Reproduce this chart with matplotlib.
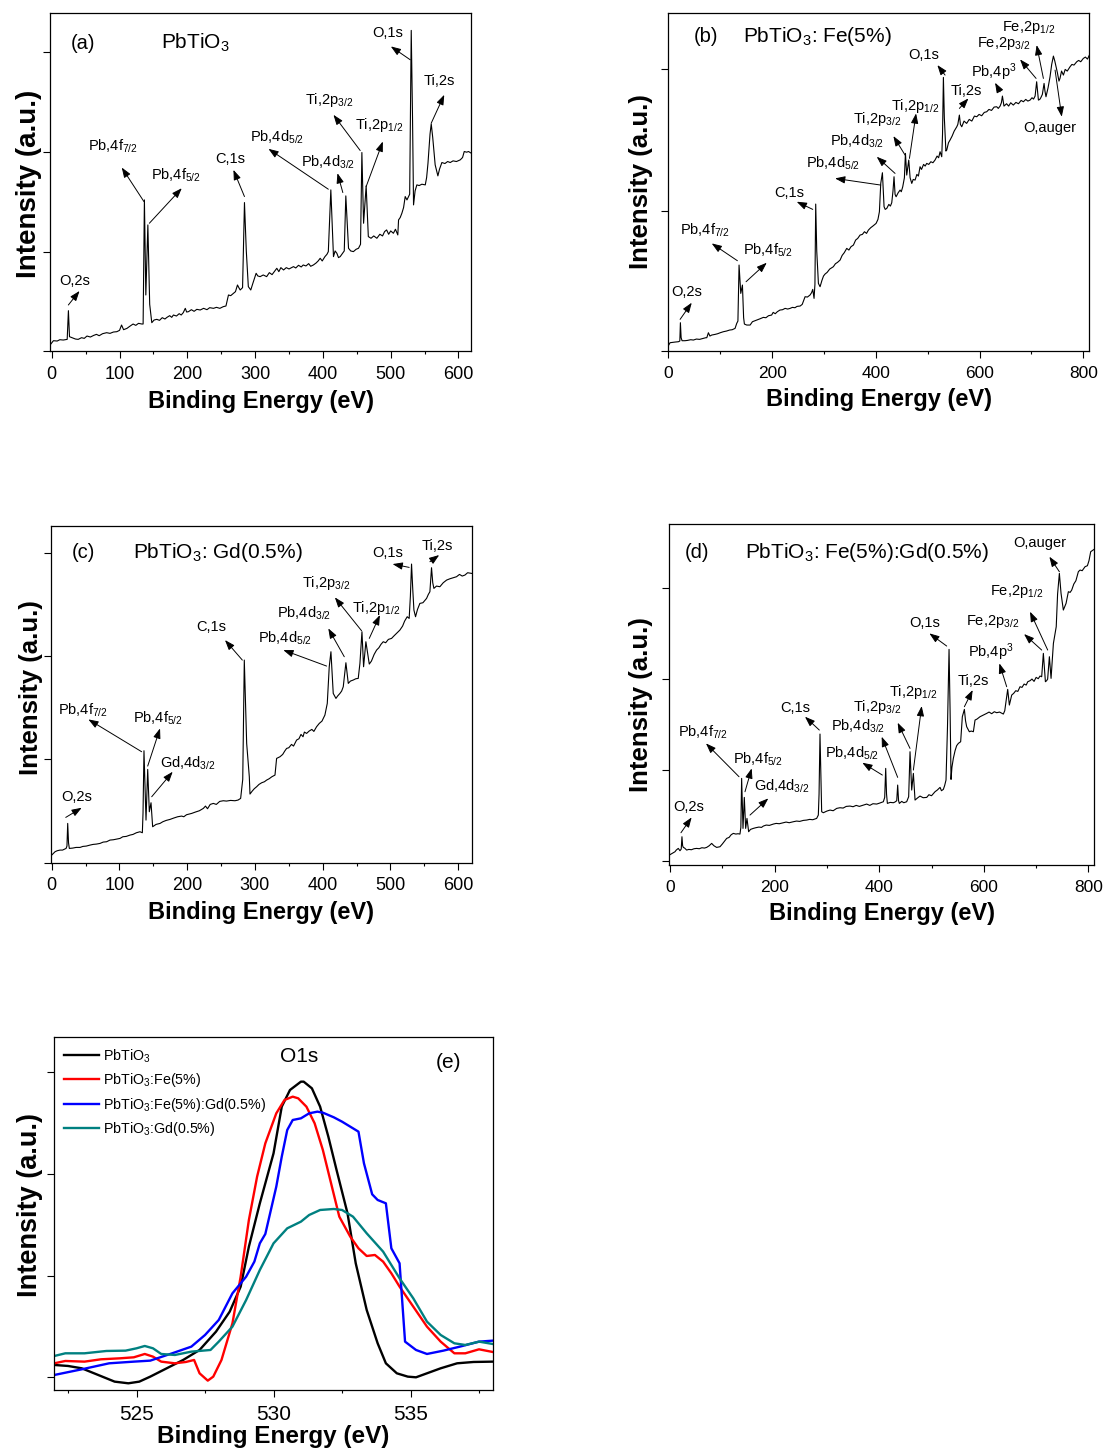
import matplotlib
matplotlib.use('Agg')
import matplotlib.pyplot as plt
from matplotlib.ticker import MultipleLocator

plt.rcParams['font.family'] = ['Liberation Sans', 'DejaVu Sans']
plt.rcParams['mathtext.fontset'] = 'custom'
plt.rcParams['mathtext.rm'] = 'Liberation Sans'
plt.rcParams['mathtext.it'] = 'Liberation Sans:italic'
plt.rcParams['mathtext.bf'] = 'Liberation Sans:bold'

# ---- survey spectra (binding energy in eV, intensity in a.u.) ----
a_ev = [-2.5, 2.5, 8, 12, 17, 22.8, 24.6, 26.2, 30, 35, 39, 44, 48, 52, 57, 62, 66, 70, 75, 81, 86,
        91, 96, 100, 103, 106, 111, 115, 120, 124, 128, 133, 134.8, 136.7, 138.8, 141.8, 144.5,
        147.6, 151, 155, 159, 163, 167, 170, 174, 177, 179.5, 184, 188, 191, 194, 197, 199, 201.7,
        206, 210, 214, 219, 224, 229, 233, 238.6, 243, 248, 253, 257, 260.7, 264, 268, 271, 274,
        276, 278, 281.5, 284.3, 287, 290, 293.6, 297, 301.5, 304, 307.4, 312, 317, 321, 325, 329,
        332, 335, 338, 342, 346, 350, 356.6, 360, 364, 368, 371, 375, 379, 382, 386, 390, 393, 396,
        399, 403, 406, 408, 411.7, 415.6, 418, 420.6, 423, 425.5, 428, 431.5, 433.8, 437.8, 441,
        445, 449, 452.5, 455.5, 457.5, 460, 463.8, 467, 471, 475, 479.6, 484, 488, 491, 494, 497,
        500, 504, 507, 510.5, 511.6, 514, 516.5, 519, 521.4, 524, 528, 530.3, 532.2, 533.7, 536,
        538.6, 542, 546, 551, 553, 555, 558, 559.8, 562, 565.6, 569.6, 572, 575.5, 580, 584, 587.8,
        592, 597, 602.6, 606, 608.5, 612, 614.8, 618.8]
a_int = [18, 31, 30, 34, 33, 35, 121, 43, 40, 36, 35, 40, 38, 45, 42, 47, 50, 46, 52, 55, 53,
         57, 58, 62, 78, 64, 68, 74, 81, 77, 83, 81, 81, 453, 168, 378, 140,
         85, 93, 95, 92, 100, 96, 101, 106, 101, 108, 105, 112, 108, 115, 128, 117, 118,
         124, 119, 125, 123, 128, 124, 130, 128, 131, 128, 133, 135, 168, 166, 173, 178, 198,
         190, 183, 190, 445, 300, 193, 183, 205, 233, 225, 223, 228, 223, 235, 229, 240,
         248, 238, 250, 243, 250, 246, 253, 249, 257, 252, 258, 255, 262, 254, 258, 264, 270, 278,
         270, 283, 290, 298, 483, 283, 300, 293, 280, 283, 290, 300, 465, 308, 300,
         298, 305, 308, 320, 595, 383, 495, 343, 338, 345, 338, 350, 345, 358, 363, 350,
         360, 353, 365, 348, 393, 400, 413, 430, 463, 453, 470, 961, 700, 438, 480,
         498, 496, 500, 498, 520, 563, 650, 681, 640, 558, 525, 545, 565, 562, 568, 565,
         570, 568, 573, 580, 598, 596, 598, 593]

b_ev = [-1.3, 3.2, 8, 13, 19.3, 22, 23.1, 24.5, 26.3, 32, 37, 43, 48.2, 54, 60, 67.5, 72, 74, 77.1,
        80, 83.5, 90, 95, 100, 106, 112, 118, 123, 128.5, 131.7, 134, 136.2, 139.5, 142.7, 145,
        146.5, 151, 157.5, 162, 167, 172, 177, 183, 188, 193, 199, 202, 206, 210, 215, 220, 225,
        230, 234.6, 239, 244, 248, 253.9, 258, 263.5, 268, 273, 276, 278.3, 280.8, 282.5, 284,
        286, 289.2, 292.4, 296, 299, 302, 306, 311, 315, 318, 322, 326, 331, 335, 339, 343.8,
        348, 352, 356.7, 361, 365, 369.5, 374, 378, 382, 385.6, 390, 395, 400.4, 404, 406.8,
        409.4, 412.6, 415.8, 418, 421, 425, 428, 430.6, 433, 435, 437, 439, 443, 446.7, 449,
        451.8, 455, 457, 459.5, 463.4, 466, 469.2, 472, 475.6, 479, 482, 485.2, 488, 492, 495,
        498, 502, 506, 510, 514, 518, 521, 523.8, 527, 528.5, 530.2, 532, 535, 536.6, 540, 543,
        547, 551, 556, 558, 561, 563, 565.6, 570, 575, 580, 585, 590, 594.5, 599, 604, 609,
        613.7, 618, 623, 628, 633, 636, 639.5, 642, 644, 647, 652, 656, 660, 665, 670, 675, 680,
        684.4, 689, 693, 697.3, 701, 704, 707, 710, 713.4, 716, 718, 721, 724.3, 726, 728, 732,
        735.8, 739, 742.3, 745, 747.4, 750, 753, 755, 758, 761.6, 765, 769, 774.4, 778, 782,
        787.3, 791, 795, 800, 804, 808, 811.7]
b_int = [13, 25, 26, 27, 28, 30, 85, 40, 31, 31, 32, 34, 33, 36, 35, 38, 40, 40, 55,
         45, 48, 50, 52, 55, 58, 60, 63, 64, 68, 83, 90, 258, 173, 198, 100,
         81, 78, 78, 88, 91, 94, 97, 101, 100, 106, 108, 116, 112, 118, 123, 124, 128,
         126, 128, 131, 130, 134, 135, 140, 163, 162, 168, 175, 185, 158, 200, 441,
         300, 203, 193, 212, 225, 231, 236, 246, 250, 253, 262, 266, 273, 287, 295, 308,
         303, 313, 318, 333, 338, 348, 350, 358, 353, 363, 370, 376, 383, 395, 418,
         503, 535, 433, 425, 428, 440, 435, 445, 480, 523, 470, 463, 475, 483, 478,
         493, 520, 593, 528, 573, 520, 503, 515, 513, 530, 525, 553, 545, 560, 555,
         563, 560, 568, 565, 573, 585, 580, 598, 583, 650, 821, 700, 600, 603, 625, 633,
         645, 660, 673, 680, 708, 680, 673, 690, 683, 695, 690, 705, 703, 710, 706, 716,
         718, 725, 722, 732, 733, 728, 735, 745, 765, 735, 742, 735, 745, 738, 746, 742, 752,
         748, 755, 750, 753, 760, 756, 765, 808, 753, 755, 760, 770, 803, 780, 763, 790,
         823, 860, 885, 870, 853, 835, 810, 818, 840, 828, 845, 840, 853, 860, 858,
         868, 872, 868, 878, 882, 876, 888]

c_ev = [-1.5, 4.9, 8, 12.3, 16, 21.2, 22.5, 23.6, 24.8, 26, 31, 36, 41.8, 46, 51, 56.6, 61, 66, 71.3,
        76, 81, 86, 91, 96, 100.8, 105, 110, 115.6, 120, 125, 130.3, 133.8, 134.8, 136.2, 139.2,
        141.7, 144.1, 146.6, 149, 154, 159.9, 164, 169, 174.6, 180, 186, 191.8, 195, 199, 206.6,
        212, 218, 223.8, 227, 230, 234, 238.6, 243, 248, 253.3, 258, 264, 270.5, 275, 278.9, 282,
        284.3, 286.5, 287.8, 291.7, 292.7, 296, 299, 302.5, 306, 310, 314, 317.3, 321, 325, 329.6,
        332, 337, 341, 344, 346.8, 350, 354, 357, 361.5, 365, 368, 371, 373, 376.3, 380, 384, 387,
        391, 395, 399, 403.3, 406.8, 409.7, 412.2, 415.6, 419.6, 422, 425.5, 428, 430.4, 434.3,
        437.8, 441, 445, 449, 452.5, 455, 458, 460.4, 463.8, 468.8, 472, 476, 479.6, 483, 486,
        489.4, 493, 497, 501.7, 505, 509, 514, 518, 521, 524.8, 527.7, 529.5, 531.2, 533, 534.7,
        537.1, 540, 543.5, 548, 553.4, 556, 558.3, 560.7, 562.5, 564.2, 568, 573, 578, 583, 588,
        593, 597.6, 602, 606, 610, 614, 620]
c_int = [20, 33, 36, 38, 38, 43, 50, 118, 60, 43, 44, 46, 46, 49, 50, 53, 55, 56, 58,
         62, 63, 68, 69, 71, 73, 78, 79, 83, 85, 90, 93, 90, 150, 336, 128,
         280, 153, 180, 108, 115, 118, 123, 127, 130, 134, 138, 140, 138, 144, 148,
         152, 156, 163, 170, 162, 175, 178, 175, 184, 186, 185, 187, 186, 188, 193, 250,
         608, 450, 358, 258, 206, 215, 222, 228, 235, 240, 243, 248, 252, 258, 263,
         313, 318, 325, 335, 343, 345, 355, 350, 368, 372, 385, 378, 392, 388, 395, 400, 394,
         408, 418, 425, 443, 478, 588, 633, 508, 493, 500, 508, 515, 528, 600,
         538, 545, 548, 552, 553, 598, 693, 588, 663, 596, 605, 625, 638, 645, 655,
         663, 660, 670, 673, 680, 688, 698, 710, 725, 738, 733, 800, 896, 820, 758,
         738, 760, 778, 780, 793, 805, 813, 885, 840, 823, 830, 828, 840, 848, 852,
         855, 858, 865, 860, 863, 870, 868]

d_ev = [-1.3, 4, 9.6, 12, 15.9, 19.1, 21.5, 22.9, 24.2, 25.5, 28, 31.9, 36, 41, 46, 51, 56, 61, 66,
        70.1, 75, 79.7, 84, 89.2, 95.6, 100, 104, 108.4, 113, 117, 121.1, 126, 130, 133.8, 135.5,
        137, 139.6, 142.1, 144.7, 147.2, 150.4, 154, 159.3, 164, 170, 175, 178.5, 184, 190, 197.6,
        203, 209, 216.7, 222, 228, 235.8, 242, 248, 255, 261.3, 267, 273, 280.4, 283.6, 285,
        286.8, 288.5, 290, 293.2, 300, 306, 312, 318.7, 325, 331, 337, 344.2, 350, 356, 362,
        369.7, 376, 382, 388, 395.2, 401, 407.9, 410.5, 412.4, 414, 415.6, 421, 427, 430, 433.5,
        435.3, 437, 438.5, 443, 447, 452.5, 456.3, 458.9, 462.1, 465.3, 468.5, 473, 478, 484,
        490.8, 495, 500, 506.7, 511, 516.3, 519, 522.6, 525, 527.7, 530.5, 533.5, 535.5, 537.3,
        539, 541.7, 545, 548, 551.3, 555.7, 558.9, 562.8, 565, 567.2, 572.3, 576, 580, 583.2,
        587, 592.7, 598, 605.5, 610, 615, 620, 624.6, 630, 637.3, 640, 642.4, 645.6, 648.8,
        653.3, 657, 661, 665, 669.2, 673, 677, 681, 684, 688.3, 692, 696, 700, 704, 707.4, 710.6,
        713.8, 717.7, 720, 722, 725.3, 728.5, 733, 738.4, 741, 744.4, 747.6, 752, 757.2, 761.6,
        765, 768, 772, 776, 780.7, 784, 788, 793.5, 798, 801, 804.3, 807, 810.7]
d_int = [17, 22, 27, 32, 37, 30, 35, 72, 45, 40, 38, 32, 34, 33, 36, 37, 36, 39, 38,
         40, 45, 52, 45, 40, 42, 50, 58, 67, 70, 78, 82, 80, 81, 80, 100,
         247, 97, 190, 97, 127, 87, 94, 97, 99, 101, 100, 104, 107, 106, 110,
         112, 111, 114, 116, 114, 117, 119, 118, 121, 122, 124, 123, 127, 137, 200,
         380, 250, 147, 144, 149, 152, 150, 157, 159, 158, 163, 164, 162, 166, 163,
         167, 170, 166, 171, 170, 173, 177, 190, 277, 200, 172, 175, 174, 176, 180,
         227, 180, 172, 178, 174, 177, 192, 327, 212, 262, 182, 188, 194, 189,
         190, 198, 195, 207, 212, 220, 210, 214, 225, 242, 400, 634, 450, 244,
         280, 307, 330, 345, 352, 357, 432, 454, 420, 402, 387, 389, 387, 422,
         425, 432, 436, 442, 446, 441, 447, 444, 446, 440, 450, 477, 514, 467,
         497, 502, 510, 508, 522, 520, 530, 527, 537, 540, 545, 538, 550, 546, 554, 552,
         622, 537, 540, 545, 612, 547, 652, 702, 800, 862, 802, 752, 772, 807,
         805, 812, 830, 840, 867, 872, 870, 882, 885, 900, 927, 930, 934]

# ---- O1s high resolution spectra ----
e_pto_ev = [522, 522.5, 523, 523.6, 524.2, 524.7, 525.1, 525.5, 526.1, 526.7, 527.3, 527.9, 528.4,
            528.8, 529.1, 529.5, 530, 530.3, 530.6, 531, 531.1, 531.4, 531.7, 532, 532.3, 532.7,
            533, 533.4, 533.8, 534.1, 534.5, 534.9, 535.2, 535.6, 536.1, 536.7, 537.3, 538]
e_pto_int = [37, 34, 27, 7, -13, -18, -13, 2, 27, 52, 82, 137, 197,
             272, 392, 522, 672, 812, 862, 887, 887, 867, 812, 722, 622, 492,
             342, 202, 102, 42, 12, 2, 0, 12, 27, 42, 46, 47]

e_fe_ev = [522, 522.4, 523.1, 523.7, 524.4, 524.9, 525.3, 525.6, 525.9, 526.4, 526.8, 527.1, 527.3,
           527.6, 527.8, 528.1, 528.5, 528.8, 529.1, 529.4, 529.7, 530.1, 530.4, 530.7, 530.9,
           531.2, 531.5, 531.8, 532.1, 532.4, 532.8, 533.1, 533.4, 533.7, 534, 534.3, 534.6,
           535.1, 535.6, 536.1, 536.6, 537, 537.5, 538]
e_fe_int = [42, 49, 47, 54, 57, 60, 70, 62, 47, 42, 46, 52, 12,
            -10, 2, 52, 162, 302, 472, 602, 702, 792, 832, 842, 837,
            812, 762, 682, 582, 482, 422, 387, 364, 367, 347, 312, 272,
            212, 152, 107, 72, 72, 84, 76]

e_fegd_ev = [522, 523, 524, 524.9, 525.5, 526.3, 527, 527.5, 528, 528.5, 529, 529.3, 529.5, 529.7,
             530.1, 530.3, 530.5, 530.7, 531, 531.3, 531.6, 531.8, 532.2, 532.5, 532.8, 533.1,
             533.3, 533.6, 533.8, 534.1, 534.3, 534.6, 534.8, 535.2, 535.6, 536.2, 536.8, 537.5, 538]
e_fegd_int = [7, 24, 42, 47, 50, 72, 92, 127, 172, 252, 302, 347, 402, 430,
              572, 662, 742, 772, 777, 792, 797, 794, 780, 767, 752, 737,
              642, 549, 532, 522, 387, 342, 107, 82, 70, 80, 92, 107, 110]

e_gd_ev = [522, 522.4, 523.1, 523.9, 524.6, 525, 525.3, 525.6, 525.9, 526.4, 527, 527.7, 528, 528.5,
           529, 529.5, 530, 530.5, 531, 531.3, 531.7, 532.2, 532.5, 532.9, 533.4, 534, 534.6,
           535.1, 535.6, 536.1, 536.6, 537, 537.5, 538]
e_gd_int = [64, 72, 72, 79, 80, 87, 94, 87, 70, 67, 77, 82, 107, 152,
            232, 322, 402, 447, 467, 487, 502, 505, 502, 482, 432, 377, 297,
            237, 167, 127, 102, 97, 107, 100]

e_labels = [r'PbTiO$_3$', r'PbTiO$_3$:Fe(5%)', r'PbTiO$_3$:Fe(5%):Gd(0.5%)', r'PbTiO$_3$:Gd(0.5%)']
e_colors = ['#000000', '#ff0000', '#0000ff', '#008080']

# ---- peak labels: text, text position, arrow start (at peak), arrow tip ----
a_notes = [('O,2s', (34.4, 211), (24.5, 138), (41, 180)),
           (r'Pb,4f$_{7/2}$', (91, 613), (136, 448), (103.3, 550)),
           (r'Pb,4f$_{5/2}$', (183.5, 528), (144, 383), (191.8, 488)),
           ('C,1s', (263, 575), (284.3, 463), (268, 543)),
           (r'Pb,4d$_{5/2}$', (332, 641), (408, 485), (319.7, 606)),
           (r'Pb,4d$_{3/2}$', (408, 566), (429.4, 475), (421.5, 533)),
           (r'Ti,2p$_{3/2}$', (409.7, 753), (455, 601), (415.6, 708)),
           (r'Ti,2p$_{1/2}$', (483.5, 678), (463.8, 493), (488.4, 628)),
           ('O,1s', (495.8, 953), (528.8, 873), (500.2, 913)),
           ('Ti,2s', (572, 808), (559.8, 683), (579, 768))]

b_notes = [('O,2s', (35.3, 178), (22.5, 95), (45, 145)),
           (r'Pb,4f$_{7/2}$', (70.7, 363), (133, 271), (83.5, 323)),
           (r'Pb,4f$_{5/2}$', (192.8, 303), (149.7, 208), (189.6, 265)),
           ('C,1s', (233.3, 475), (278.3, 425), (247.4, 448)),
           (r'Pb,4d$_{5/2}$', (318, 563), (409.4, 498), (321.3, 518)),
           (r'Pb,4d$_{3/2}$', (364.4, 628), (437, 533), (401.7, 583)),
           (r'Ti,2p$_{3/2}$', (401.7, 695), (456.3, 588), (433.8, 645)),
           (r'Ti,2p$_{1/2}$', (475.6, 735), (464.7, 578), (477.5, 713)),
           ('O,1s', (493, 888), (533.4, 828), (518.6, 858)),
           ('Ti,2s', (575, 781), (561, 728), (578.4, 758)),
           (r'Pb,4p$^3$', (626.6, 838), (639.5, 778), (629.8, 805)),
           (r'Fe,2p$_{3/2}$', (645.9, 923), (708.9, 818), (678, 875)),
           (r'Fe,2p$_{1/2}$', (694, 971), (723, 818), (710, 918)),
           ('O,auger', (735.9, 668), (745.5, 843), (758.4, 703))]

c_notes = [('O,2s', (36.9, 198), (20.7, 136), (44.3, 165)),
           (r'Pb,4f$_{7/2}$', (45.7, 458), (132.8, 333), (54.1, 430)),
           (r'Pb,4f$_{5/2}$', (157.4, 433), (141.7, 290), (159.9, 403)),
           (r'Gd,4d$_{3/2}$', (201.7, 298), (147.6, 198), (178.6, 273)),
           ('C,1s', (236.1, 708), (281.4, 608), (255.8, 668)),
           (r'Pb,4d$_{5/2}$', (344.3, 673), (405.8, 590), (341.9, 638)),
           (r'Pb,4d$_{3/2}$', (372.4, 748), (431.9, 618), (408.3, 703)),
           (r'Ti,2p$_{3/2}$', (405.8, 840), (457.4, 696), (418, 796)),
           (r'Ti,2p$_{1/2}$', (479.6, 763), (468.8, 673), (484.5, 743)),
           ('O,1s', (495.8, 928), (527.7, 886), (503.2, 896)),
           ('Ti,2s', (569.1, 950), (558.3, 903), (572, 923))]

d_notes = [('O,2s', (35, 160), (21, 84), (41.4, 130)),
           (r'Pb,4f$_{7/2}$', (62.5, 384), (132, 252), (68.8, 352)),
           (r'Pb,4f$_{5/2}$', (168.9, 304), (143.4, 207), (156.2, 277)),
           (r'Gd,4d$_{3/2}$', (214.8, 222), (153, 137), (188, 187)),
           ('C,1s', (239, 457), (285.5, 392), (258.1, 432)),
           (r'Pb,4d$_{5/2}$', (347.4, 322), (406, 257), (367.7, 294)),
           (r'Pb,4d$_{3/2}$', (360, 404), (435.3, 250), (404.7, 372)),
           (r'Ti,2p$_{3/2}$', (397, 462), (458.9, 337), (435.3, 414)),
           (r'Ti,2p$_{1/2}$', (465.3, 506), (465.3, 272), (481.2, 464)),
           ('O,1s', (487.6, 712), (529, 644), (495.9, 682)),
           ('Ti,2s', (580, 540), (562.8, 462), (578.7, 512)),
           (r'Pb,4p$^3$', (613.1, 627), (643.7, 522), (629.7, 592)),
           (r'Fe,2p$_{3/2}$', (616.9, 717), (710.6, 632), (676.9, 680)),
           (r'Fe,2p$_{1/2}$', (662.8, 807), (722.1, 632), (688.3, 747)),
           ('O,auger', (707.4, 952), (744.4, 867), (725.3, 912))]

fig = plt.figure(figsize=(11.07, 14.5), dpi=100)


def style_axes(ax, xlim, ylim, yticks, xmajor, xminor, tick_fs, xl_fs, yl_fs, xpad, ylab_xy):
    ax.set_xlim(*xlim)
    ax.set_ylim(*ylim)
    ax.set_yticks(yticks)
    ax.set_yticklabels([])
    ax.xaxis.set_major_locator(MultipleLocator(xmajor))
    ax.xaxis.set_minor_locator(MultipleLocator(xminor))
    ax.tick_params(axis='both', which='major', direction='out', length=5, width=0.8,
                   labelsize=tick_fs, pad=5.5)
    ax.tick_params(axis='x', which='minor', direction='out', length=2.5, width=0.8)
    for s in ax.spines.values():
        s.set_linewidth(0.9)
    ax.set_xlabel('Binding Energy (eV)', fontsize=xl_fs, fontweight='bold', labelpad=xpad)
    ax.set_ylabel('Intensity (a.u.)', fontsize=yl_fs, fontweight='bold')
    ax.yaxis.set_label_coords(*ylab_xy)


def survey(rect, ev, counts, notes, letter, letter_xy, title, title_xy, title_ha,
           xlim, ylim, yticks, xmajor, xminor, tick_fs, yl_fs, ylab_xy):
    ax = fig.add_axes(rect)
    ax.plot(ev, counts, color='k', lw=0.8)
    for label, txy, start, tip in notes:
        ax.annotate('', xy=tip, xytext=start,
                    arrowprops=dict(arrowstyle='-|>,head_length=0.6,head_width=0.22',
                                    color='k', lw=0.7, mutation_scale=10,
                                    shrinkA=0, shrinkB=0))
        ax.text(txy[0], txy[1], label, fontsize=10.5, ha='center', va='center')
    ax.text(letter_xy[0], letter_xy[1], letter, fontsize=14.5, ha='center', va='center')
    ax.text(title_xy[0], title_xy[1], title, fontsize=15, ha=title_ha, va='center')
    style_axes(ax, xlim, ylim, yticks, xmajor, xminor, tick_fs, 17, yl_fs, 5, ylab_xy)
    return ax


survey([0.0452, 0.7579, 0.3803, 0.2331], a_ev, a_int, a_notes, '(a)', (45.7, 923),
       r'PbTiO$_3$', (211.5, 923), 'center', (-2.5, 618.5), (0, 1013),
       [0, 298, 597, 895], 100, 50, 13, 20, (-0.019, 0.494))
survey([0.6032, 0.7579, 0.3809, 0.2333], b_ev, b_int, b_notes, '(b)', (72.6, 945),
       r'PbTiO$_3$: Fe(5%)', (144.6, 945), 'left', (-1.3, 811.7), (0, 1015),
       [0, 421, 846], 200, 100, 12.5, 18.5, (-0.034, 0.50))
survey([0.0458, 0.4050, 0.3803, 0.2322], c_ev, c_int, c_notes, '(c)', (46.7, 930),
       r'PbTiO$_3$: Gd(0.5%)', (119.5, 930), 'left', (-1.5, 620), (0, 1010),
       [0, 310, 620, 930], 100, 50, 13, 18.5, (-0.018, 0.52))
survey([0.6046, 0.4034, 0.3837, 0.2352], d_ev, d_int, d_notes, '(d)', (52.3, 924),
       r'PbTiO$_3$: Fe(5%):Gd(0.5%)', (143.4, 924), 'left', (-1.3, 810.7), (-13, 1010),
       [0, 272, 544, 817], 200, 100, 12.5, 18.5, (-0.038, 0.472))

# ---- (e) O1s ----
axe = fig.add_axes([0.0491, 0.0414, 0.3960, 0.2432])
for ev, counts, lab, col in zip([e_pto_ev, e_fe_ev, e_fegd_ev, e_gd_ev],
                                [e_pto_int, e_fe_int, e_fegd_int, e_gd_int],
                                e_labels, e_colors):
    axe.plot(ev, counts, color=col, lw=1.7, label=lab)
axe.legend(loc='upper left', frameon=False, fontsize=10.3, handlelength=2.4,
           handletextpad=0.3, labelspacing=0.45, borderaxespad=0.5, borderpad=0.2)
axe.text(530.95, 962, 'O1s', fontsize=15, ha='center', va='center')
axe.text(536.4, 944, '(e)', fontsize=15, ha='center', va='center')
style_axes(axe, (522, 538), (-38, 1020), [0, 305, 610, 915], 5, 2.5, 15, 17.5, 19.5, 1,
           (-0.026, 0.5245))

fig.savefig('out.png', dpi=100)
